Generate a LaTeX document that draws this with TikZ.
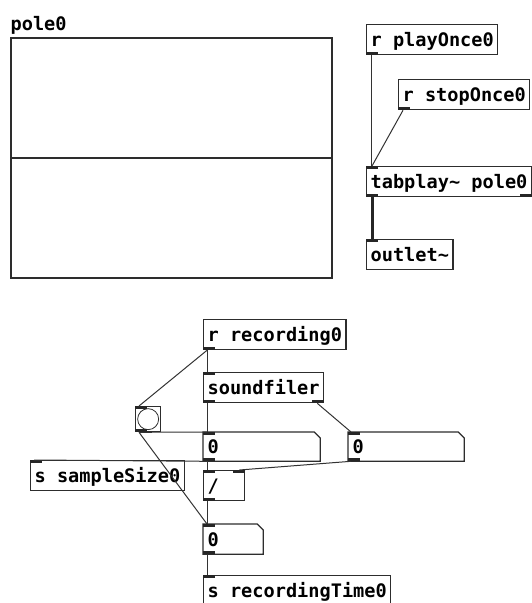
\documentclass[tikz,border=0pt]{standalone}
\usepackage{fontspec}
\newfontfamily\pdfont{DejaVu Sans Mono}
\usetikzlibrary{calc}
\definecolor{pdline}{RGB}{45,45,45}

\begin{document}
\begin{tikzpicture}[
    x=1pt, y=-1pt,
    obj/.style={draw=pdline, line width=1.3pt, anchor=north west, inner xsep=4pt, inner ysep=0pt,
                minimum height=30pt, text height=16pt, text depth=2pt,
                font=\pdfont\bfseries\fontsize{18.6}{20}\selectfont},
    numbox/.style={obj, draw=none, minimum height=28pt, align=left},
    iolet/.style={fill=black!85},
    ctl/.style={line width=1pt, color=black!80},
    sig/.style={line width=3pt, color=black!85},
  ]
  \useasboundingbox (0,0) rectangle (531,603);

  %% Array
  \node[obj, draw=none, anchor=base west, inner xsep=0pt, minimum height=0pt] (polelabel) at (10,30) {pole0};
  \node[draw=pdline, line width=2pt, anchor=north west, minimum width=321pt, minimum height=240pt,
        inner sep=0pt] (pole) at (10,37) {};
  \draw[pdline, line width=1.5pt] (pole.west) -- (pole.east);

  %% Right column: playback
  \node[obj] (play) at (366,24) {r playOnce0};
  \node[obj] (stop) at (398,79) {r stopOnce0};
  \node[obj] (tab)  at (366,166) {tabplay\textasciitilde{} pole0};
  \node[obj] (out)  at (366,239) {outlet\textasciitilde};

  %% Bottom: recording
  \node[obj] (rec)  at (203,319) {r recording0};
  \node[obj] (sfil) at (203,372) {soundfiler};
  \node[draw=pdline, line width=1.3pt, anchor=north west, minimum size=25pt, inner sep=0pt] (bng) at (135,406) {};
  \draw[pdline, line width=0.8pt] (bng.center) circle (10.5);
  \node[numbox, text width=108pt] (nb1) at (203,432) {0};
  \node[numbox, text width=107pt] (nbr) at (348,432) {0};
  \node[obj] (ssize) at (30,460) {s sampleSize0};
  \node[obj, text width=33pt, align=left] (div) at (203,470) {/};
  \node[numbox, text width=51pt, minimum height=29pt] (nb2) at (203,524) {0};
  \node[obj] (stime) at (203,575) {s recordingTime0};

  %% Number box outlines
  \foreach \n in {nb1,nbr,nb2}
    \draw[pdline, line width=1.3pt] (\n.south west) |- ($(\n.north east)+(-6,0)$)
      -- ($(\n.north east)+(0,6)$) -- (\n.south east) -- cycle;

  %% Inlets and outlets
  \foreach \n in {play,stop,tab,rec,sfil,bng,nb1,nbr,div,nb2}
    \fill[iolet] (\n.south west) rectangle ($(\n.south west)+(12,-3)$);
  \foreach \n in {tab,out,sfil,bng,nb1,nbr,ssize,div,nb2,stime}
    \fill[iolet] (\n.north west) rectangle ($(\n.north west)+(12,3)$);
  \foreach \n in {tab,sfil}
    \fill[iolet] (\n.south east) rectangle ($(\n.south east)+(-12,-3)$);
  \fill[iolet] (div.north east) rectangle ($(div.north east)+(-12,3)$);

  %% Connections
  \draw[ctl] ($(play.south west)+(5,0)$) -- ($(tab.north west)+(5,0)$);
  \draw[ctl] ($(stop.south west)+(5,0)$) -- ($(tab.north west)+(6,0)$);
  \draw[sig] ($(tab.south west)+(6,0)$)  -- ($(out.north west)+(6,0)$);

  \draw[ctl] ($(rec.south west)+(4,0)$)  -- ($(sfil.north west)+(4,0)$);
  \draw[ctl] ($(rec.south west)+(4,0)$)  -- ($(bng.north west)+(4,0)$);
  \draw[ctl] ($(sfil.south west)+(4,0)$) -- ($(nb1.north west)+(4,0)$);
  \draw[ctl] ($(sfil.south east)+(-7,0)$) -- ($(nbr.north west)+(3,0)$);
  \draw[ctl] ($(bng.south west)+(4,0)$)  -- ($(nb1.north west)+(4,0)$);
  \draw[ctl] ($(bng.south west)+(4,0)$)  -- ($(nb2.north west)+(4,0)$);
  \draw[ctl] ($(nb1.south west)+(4,0)$)  -- ($(ssize.north west)+(4,0)$);
  \draw[ctl] ($(nb1.south west)+(4,0)$)  -- ($(div.north west)+(4,0)$);
  \draw[ctl] ($(nbr.south west)+(3,0)$)  -- ($(div.north east)+(-6,0)$);
  \draw[ctl] ($(div.south west)+(4,0)$)  -- ($(nb2.north west)+(4,0)$);
  \draw[ctl] ($(nb2.south west)+(4,0)$)  -- ($(stime.north west)+(4,0)$);

\end{tikzpicture}
\end{document}
